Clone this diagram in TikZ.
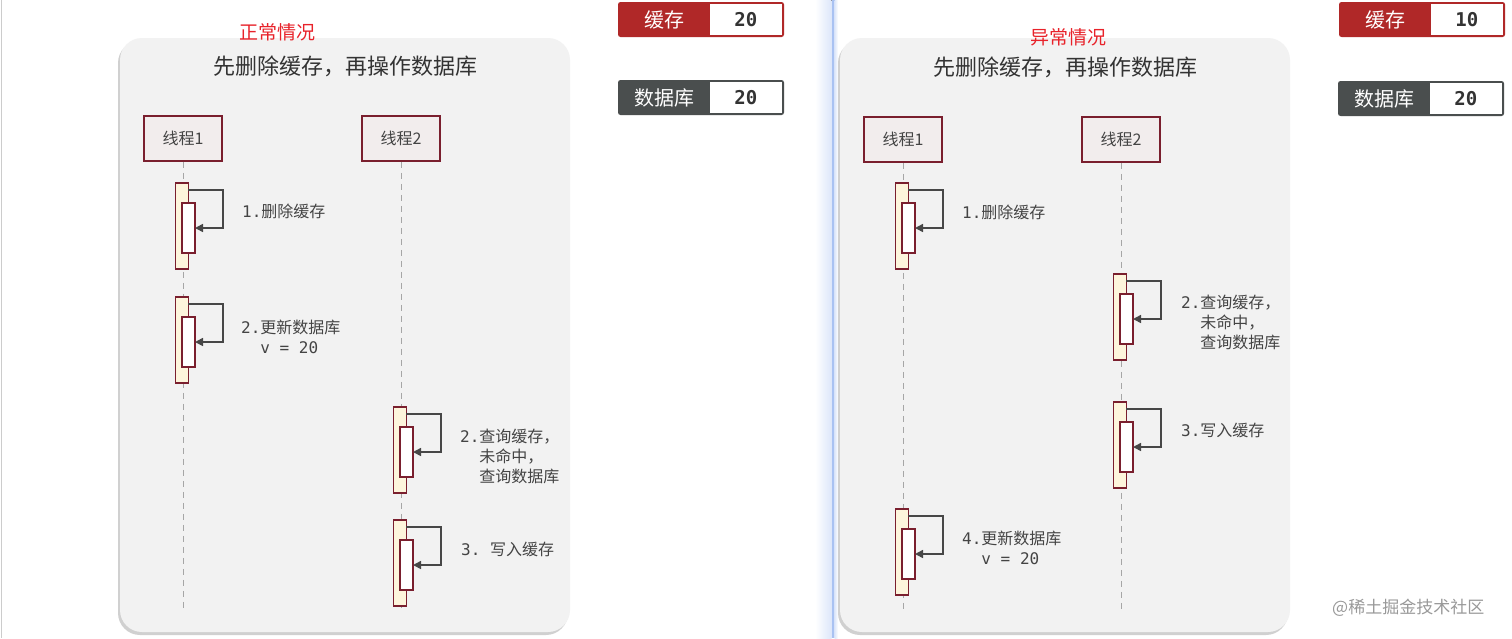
\documentclass[tikz,border=0pt]{standalone}
\usepackage{fontspec}
\setmainfont{Noto Sans CJK SC}
\newfontfamily\mono{DejaVu Sans Mono}
\usetikzlibrary{arrows.meta,positioning,shadows}

\definecolor{panelgray}{HTML}{F2F2F2}
\definecolor{threadred}{HTML}{7A1F2E}
\definecolor{barfill}{HTML}{FDF5DC}
\definecolor{loopgray}{HTML}{474747}
\definecolor{textgray}{HTML}{444444}
\definecolor{cachered}{HTML}{B02828}
\definecolor{dbgray}{HTML}{4A4E4E}
\definecolor{casered}{HTML}{E8222A}
\definecolor{divblue}{HTML}{A9C2F2}

\begin{document}
\begin{tikzpicture}[
  x=1pt, y=-1pt,
  panel/.style={rectangle, rounded corners=22pt, fill=panelgray, minimum width=450pt, minimum height=594pt, drop shadow={shadow xshift=-2pt, shadow yshift=-3pt, fill=black!30, opacity=0.6}},
  casetitle/.style={text=casered, inner sep=0pt, font=\fontsize{19}{22}\selectfont},
  heading/.style={text=black!80, inner sep=0pt, font=\fontsize{22}{24}\selectfont},
  thread/.style={rectangle, draw=threadred, line width=1.6pt, fill=red!2!panelgray, minimum width=78pt, minimum height=45pt, text=textgray, font=\fontsize{16}{18}\selectfont},
  lifeline/.style={draw=black!35, line width=1pt, dash pattern=on 6pt off 5pt},
  outerbar/.style={rectangle, draw=threadred, line width=1.4pt, fill=barfill, minimum width=12.5pt, minimum height=86pt, inner sep=0pt, outer sep=0pt, anchor=north},
  innerbar/.style={rectangle, draw=threadred, line width=1.4pt, fill=white, minimum width=13pt, minimum height=50pt, inner sep=0pt, outer sep=0pt, anchor=north},
  selfcall/.style={draw=loopgray, line width=1.6pt, -{Triangle[length=8pt,width=8pt]}},
  steplabel/.style={anchor=west, align=left, inner sep=0pt, text=textgray, font=\fontsize{16}{20}\selectfont},
  cachebox/.style={rectangle, rounded corners=2.5pt, minimum width=166pt, minimum height=35pt, inner sep=0pt, outer sep=0pt, anchor=north west},
  keytext/.style={text=white, inner sep=0pt, font=\fontsize{20}{22}\selectfont},
  valbox/.style={rectangle, fill=white, minimum width=72pt, minimum height=31pt, inner sep=0pt, anchor=east, text=black!80, font=\mono\bfseries\fontsize{19}{22}\selectfont},
  watermark/.style={text=black!40, inner sep=0pt, anchor=west, font=\fontsize{17}{20}\selectfont}
]
\useasboundingbox[fill=white] (0,0) rectangle (1512,638);
\draw[black!20, line width=1pt] (1,0) -- (1,638);

% divider between the two cases
\fill[left color=white, right color=divblue!40] (815,0) rectangle (831.5,638);
\fill[divblue] (831.5,0) rectangle (834.5,638);
\fill[left color=divblue!40, right color=white] (834.5,0) rectangle (838,638);

% normal case
\node[panel] (panelL) at (345,335) {};
\node[casetitle] (caseL) at (277,32) {正常情况};
\node[heading] (headL) at (345,66) {先删除缓存，再操作数据库};
\node[thread] (l1) at (183,138.5) {线程1};
\node[thread] (l2) at (401,138.5) {线程2};
\coordinate (l1end) at (183,610);
\coordinate (l2end) at (401,610);
\draw[lifeline] (l1.south) -- (l1end);
\draw[lifeline] (l2.south) -- (l2end);

\node[outerbar] (la) at (182,183) {};
\node[innerbar] (lai) at ([xshift=6.5pt,yshift=-20pt]la.north) {};
\draw[selfcall] ([yshift=-7pt]la.north east) -- ++(35,0) |- (lai.east);
\node[steplabel] (lat) at (242,211) {{\mono 1.}删除缓存};

\node[outerbar] (lb) at (182,297) {};
\node[innerbar] (lbi) at ([xshift=6.5pt,yshift=-20pt]lb.north) {};
\draw[selfcall] ([yshift=-7pt]lb.north east) -- ++(35,0) |- (lbi.east);
\node[steplabel] (lbt) at (241,336.5) {{\mono 2.}更新数据库\\{\mono\hphantom{2.}v = 20}};

\node[outerbar] (lc) at (400,407) {};
\node[innerbar] (lci) at ([xshift=6.5pt,yshift=-20pt]lc.north) {};
\draw[selfcall] ([yshift=-7pt]lc.north east) -- ++(35,0) |- (lci.east);
\node[steplabel] (lct) at (460,456) {{\mono 2.}查询缓存，\\{\mono\hphantom{2.}}未命中，\\{\mono\hphantom{2.}}查询数据库};

\node[outerbar] (ld) at (400,520) {};
\node[innerbar] (ldi) at ([xshift=6.5pt,yshift=-20pt]ld.north) {};
\draw[selfcall] ([yshift=-7pt]ld.north east) -- ++(35,0) |- (ldi.east);
\node[steplabel] (ldt) at (461,549) {{\mono 3.\ }写入缓存};

\node[cachebox, fill=cachered] (cacheL) at (618,2) {};
\node[keytext] (cacheLkey) at ([xshift=46pt]cacheL.west) {缓存};
\node[valbox] (cacheLval) at ([xshift=-2pt]cacheL.east) {20};
\node[cachebox, fill=dbgray] (dbL) at (618,80) {};
\node[keytext] (dbLkey) at ([xshift=46pt]dbL.west) {数据库};
\node[valbox] (dbLval) at ([xshift=-2pt]dbL.east) {20};

% abnormal case
\node[panel] (panelR) at (1065,335) {};
\node[casetitle] (caseR) at (1068,37) {异常情况};
\node[heading] (headR) at (1065,67) {先删除缓存，再操作数据库};
\node[thread] (r1) at (903,139.5) {线程1};
\node[thread] (r2) at (1121,139.5) {线程2};
\coordinate (r1end) at (903,612);
\coordinate (r2end) at (1121,612);
\draw[lifeline] (r1.south) -- (r1end);
\draw[lifeline] (r2.south) -- (r2end);

\node[outerbar] (ra) at (902,183) {};
\node[innerbar] (rai) at ([xshift=6.5pt,yshift=-20pt]ra.north) {};
\draw[selfcall] ([yshift=-7pt]ra.north east) -- ++(35,0) |- (rai.east);
\node[steplabel] (rat) at (962,212) {{\mono 1.}删除缓存};

\node[outerbar] (rb) at (1120,274) {};
\node[innerbar] (rbi) at ([xshift=6.5pt,yshift=-20pt]rb.north) {};
\draw[selfcall] ([yshift=-7pt]rb.north east) -- ++(35,0) |- (rbi.east);
\node[steplabel] (rbt) at (1181,322.5) {{\mono 2.}查询缓存，\\{\mono\hphantom{2.}}未命中，\\{\mono\hphantom{2.}}查询数据库};

\node[outerbar] (rc) at (1120,402) {};
\node[innerbar] (rci) at ([xshift=6.5pt,yshift=-20pt]rc.north) {};
\draw[selfcall] ([yshift=-7pt]rc.north east) -- ++(35,0) |- (rci.east);
\node[steplabel] (rct) at (1181,430) {{\mono 3.}写入缓存};

\node[outerbar] (rd) at (902,509) {};
\node[innerbar] (rdi) at ([xshift=6.5pt,yshift=-20pt]rd.north) {};
\draw[selfcall] ([yshift=-7pt]rd.north east) -- ++(35,0) |- (rdi.east);
\node[steplabel] (rdt) at (962,548) {{\mono 4.}更新数据库\\{\mono\hphantom{4.}v = 20}};

\node[cachebox, fill=cachered] (cacheR) at (1339,2) {};
\node[keytext] (cacheRkey) at ([xshift=46pt]cacheR.west) {缓存};
\node[valbox] (cacheRval) at ([xshift=-2pt]cacheR.east) {10};
\node[cachebox, fill=dbgray] (dbR) at (1338,81) {};
\node[keytext] (dbRkey) at ([xshift=46pt]dbR.west) {数据库};
\node[valbox] (dbRval) at ([xshift=-2pt]dbR.east) {20};

\node[watermark] (mark) at (1332,608) {@稀土掘金技术社区};
\end{tikzpicture}
\end{document}
